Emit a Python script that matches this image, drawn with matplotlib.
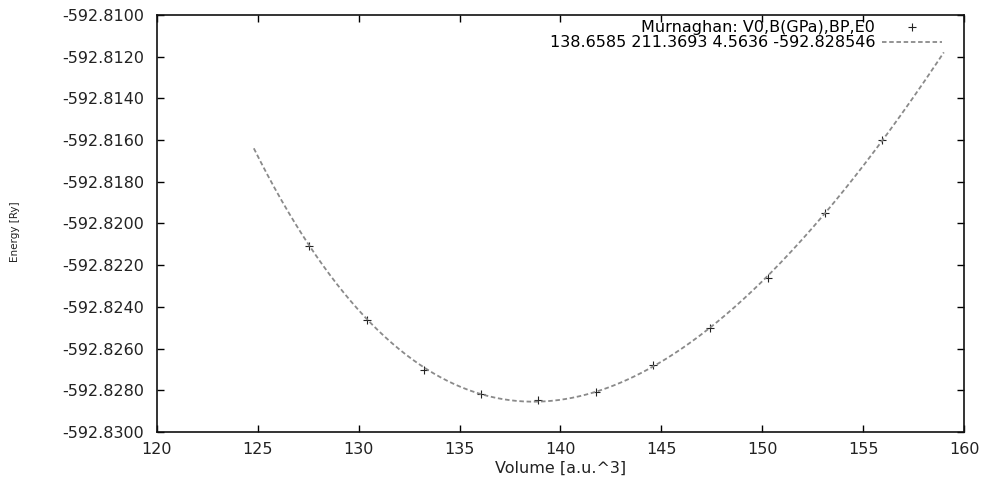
import numpy as np
import matplotlib
matplotlib.use("Agg")
from matplotlib import pyplot as plt

volume = [127.55, 130.39, 133.23, 136.07, 138.91, 141.75, 144.59, 147.43, 150.27, 153.11, 155.95]
energy = [-592.82110, -592.82462, -592.82705, -592.82818, -592.82847, -592.82810,
          -592.82680, -592.82500, -592.82260, -592.81950, -592.81600]

# Murnaghan fit parameters as printed in the key
V0 = 138.6585
B_GPa = 211.3693
BP = 4.5636
E0 = -592.828546
fit_range = (124.8, 159.0)

points_label = "Murnaghan: V0,B(GPa),BP,E0"
fit_label = "138.6585 211.3693 4.5636 -592.828546"

x_ticks = [120, 125, 130, 135, 140, 145, 150, 155, 160]
y_ticks = [-592.830, -592.828, -592.826, -592.824, -592.822, -592.820,
           -592.818, -592.816, -592.814, -592.812, -592.810]


def murnaghan(v):
    b = B_GPa / 14710.507848  # GPa -> Ry/bohr^3
    return E0 + b * v / BP * ((V0 / v) ** BP / (BP - 1) + 1) - b * V0 / (BP - 1)


plt.rcParams['font.family'] = ['DejaVu Sans']
fig = plt.figure(figsize=(9.86, 4.8), dpi=100)
ax = fig.add_axes([0.1592, 0.1, 0.8185, 0.8688])

vv = np.linspace(fit_range[0], fit_range[1], 400)
ax.plot(volume, energy, linestyle='none', marker='+', color='#222222',
        markersize=5.5, markeredgewidth=0.8, label=points_label)
ax.plot(vv, murnaghan(vv), linestyle=(0, (2.5, 1.5)), color='#8a8a8a',
        linewidth=1.3, label=fit_label)

ax.set_xlim(120, 160)
ax.set_ylim(-592.830, -592.810)
ax.set_xticks(x_ticks)
ax.set_yticks(y_ticks)
ax.set_yticklabels(["%.4f" % t for t in y_ticks])
ax.tick_params(direction='in', length=5, width=1, top=True, right=True,
               labelsize=11.5, labelcolor='#222222')
ax.tick_params(axis='y', pad=9)
ax.tick_params(axis='x', pad=7)
for s in ax.spines.values():
    s.set_linewidth(1.2)
    s.set_color('#111111')

ax.set_xlabel("Volume [a.u.^3]", fontsize=11.5, color='#222222', labelpad=3)
ax.set_ylabel("Energy [Ry]", fontsize=7.5, color='#222222')
ax.yaxis.set_label_coords(-0.17, 0.48)

ax.legend(loc='upper right', frameon=False, markerfirst=False, fontsize=11.5,
          handlelength=3.8, handletextpad=0.4, labelspacing=0.0,
          borderaxespad=0.2, bbox_to_anchor=(0.985, 1.01))

fig.savefig("out.png", dpi=100)
